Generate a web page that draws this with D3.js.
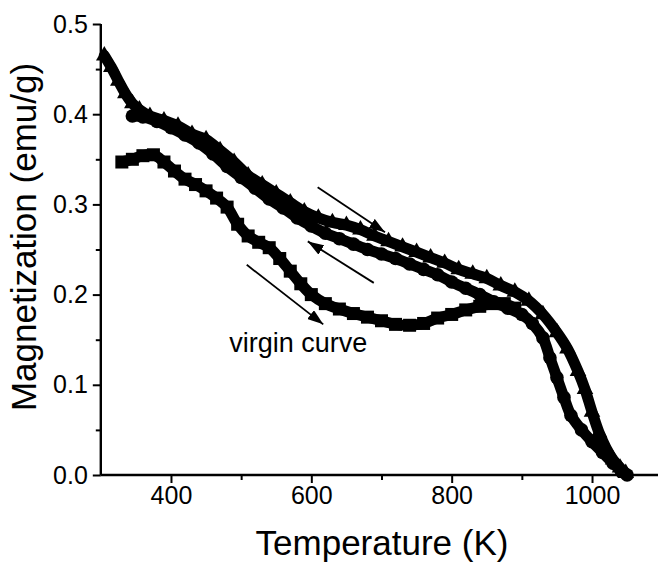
<!DOCTYPE html>
<html>
<head>
<meta charset="utf-8">
<script src="https://cdn.jsdelivr.net/npm/d3@7"></script>
<style>
  body { margin: 0; background: #fff; }
  svg { display: block; font-family: 'Liberation Sans', Arial, sans-serif; }
</style>
</head>
<body>
<svg id="chart"></svg>
<script>
// heating run (triangles)
const heatT = [305, 315, 325, 335, 345, 355, 370, 390, 410, 430, 450, 470, 490, 510, 530, 550, 570, 590, 610, 630, 650, 670, 690, 710, 730, 750, 770, 790, 810, 830, 850, 870, 890, 910, 930, 950, 965, 980, 990, 1000, 1010, 1020, 1030, 1040, 1048];
const heatM = [0.465, 0.452, 0.437, 0.423, 0.412, 0.405, 0.398, 0.393, 0.387, 0.378, 0.372, 0.360, 0.347, 0.332, 0.322, 0.312, 0.302, 0.292, 0.285, 0.280, 0.277, 0.272, 0.265, 0.259, 0.253, 0.247, 0.241, 0.235, 0.228, 0.223, 0.218, 0.210, 0.203, 0.193, 0.178, 0.158, 0.140, 0.115, 0.095, 0.070, 0.047, 0.030, 0.017, 0.008, 0.002];

// cooling run (circles)
const coolT = [345, 360, 380, 400, 420, 440, 460, 480, 500, 520, 540, 560, 580, 600, 620, 640, 660, 680, 700, 720, 740, 760, 780, 800, 820, 840, 860, 880, 900, 915, 930, 940, 950, 960, 970, 985, 1000, 1015, 1030, 1042, 1050];
const coolM = [0.398, 0.397, 0.392, 0.385, 0.377, 0.368, 0.356, 0.342, 0.330, 0.318, 0.306, 0.296, 0.285, 0.276, 0.268, 0.262, 0.256, 0.250, 0.245, 0.240, 0.234, 0.228, 0.222, 0.214, 0.207, 0.200, 0.192, 0.185, 0.178, 0.168, 0.152, 0.130, 0.108, 0.086, 0.066, 0.050, 0.037, 0.025, 0.013, 0.004, 0.000];

// virgin curve (squares)
const virgT = [330, 345, 360, 375, 390, 405, 420, 435, 450, 465, 480, 495, 510, 525, 540, 555, 570, 585, 600, 620, 640, 660, 680, 700, 720, 740, 760, 780, 800, 820, 840, 860, 875, 890];
const virgM = [0.347, 0.350, 0.354, 0.355, 0.347, 0.337, 0.328, 0.322, 0.315, 0.307, 0.297, 0.278, 0.265, 0.258, 0.252, 0.240, 0.226, 0.212, 0.200, 0.190, 0.184, 0.179, 0.175, 0.171, 0.167, 0.166, 0.168, 0.174, 0.178, 0.183, 0.187, 0.190, 0.190, 0.185];

const xMajor = [400, 600, 800, 1000];
const xMinor = [500, 700, 900];
const yMajor = [0.0, 0.1, 0.2, 0.3, 0.4, 0.5];
const yMinor = [0.05, 0.15, 0.25, 0.35, 0.45];

// arrows: [T0, M0, T1, M1], tail -> tip
const arrows = [
    [609, 0.319, 705, 0.269],
    [689, 0.213, 595, 0.259],
    [508, 0.233, 617, 0.167]
];

const width = 658, height = 565;
const svg = d3.select('#chart').attr('width', width).attr('height', height);
svg.append('rect').attr('width', width).attr('height', height).attr('fill', '#fff');

const x = d3.scaleLinear().domain([300, 1100]).range([100.8, 662.2]);
const y = d3.scaleLinear().domain([0, 0.5]).range([475, 24]);

const zip = (a, b) => a.map((v, i) => [v, b[i]]);
const heat = zip(heatT, heatM);
const cool = zip(coolT, coolM);
const virg = zip(virgT, virgM);

const line = d3.line()
    .x(d => x(d[0]))
    .y(d => y(d[1]))
    .curve(d3.curveCatmullRom);

const plot = svg.append('g');

// thick bands under the markers
[virg, cool, heat].forEach(data => {
    plot.append('path')
        .datum(data)
        .attr('d', line)
        .attr('fill', 'none')
        .attr('stroke', '#000')
        .attr('stroke-width', 11)
        .attr('stroke-linejoin', 'round')
        .attr('stroke-linecap', 'round');
});

plot.selectAll('.sq')
    .data(virg)
    .enter()
    .append('rect')
    .attr('class', 'sq')
    .attr('x', d => x(d[0]) - 6.5)
    .attr('y', d => y(d[1]) - 6.5)
    .attr('width', 13)
    .attr('height', 13)
    .attr('fill', '#000');

plot.selectAll('.ci')
    .data(cool)
    .enter()
    .append('circle')
    .attr('class', 'ci')
    .attr('cx', d => x(d[0]))
    .attr('cy', d => y(d[1]))
    .attr('r', 6.8)
    .attr('fill', '#000');

const tri = d3.symbol().type(d3.symbolTriangle).size(120);
plot.selectAll('.tr')
    .data(heat)
    .enter()
    .append('path')
    .attr('class', 'tr')
    .attr('d', tri)
    .attr('transform', d => `translate(${x(d[0])},${y(d[1])})`)
    .attr('fill', '#000');

// arrows
const defs = svg.append('defs');
defs.append('marker')
    .attr('id', 'head')
    .attr('viewBox', '0 0 16 11')
    .attr('refX', 16)
    .attr('refY', 5.5)
    .attr('markerUnits', 'userSpaceOnUse')
    .attr('markerWidth', 16)
    .attr('markerHeight', 11)
    .attr('orient', 'auto')
    .append('path')
    .attr('d', 'M0,0 L16,5.5 L0,11 Z')
    .attr('fill', '#000');

svg.selectAll('.arrow')
    .data(arrows)
    .enter()
    .append('line')
    .attr('class', 'arrow')
    .attr('x1', d => x(d[0]))
    .attr('y1', d => y(d[1]))
    .attr('x2', d => x(d[2]))
    .attr('y2', d => y(d[3]))
    .attr('stroke', '#000')
    .attr('stroke-width', 1.8)
    .attr('marker-end', 'url(#head)');

svg.append('text')
    .attr('x', x(483))
    .attr('y', y(0.136))
    .attr('font-size', '27px')
    .attr('fill', '#000')
    .text('virgin curve');

// axes
const xAxis = svg.append('g')
    .attr('transform', 'translate(0,475)')
    .call(d3.axisBottom(x).tickValues(xMajor).tickSize(8).tickPadding(3).tickFormat(d3.format('d')));
svg.append('g')
    .attr('transform', 'translate(0,475)')
    .call(d3.axisBottom(x).tickValues(xMinor).tickSize(5).tickFormat(''))
    .call(g => g.select('.domain').remove());

const yAxis = svg.append('g')
    .attr('transform', 'translate(100.8,0)')
    .call(d3.axisLeft(y).tickValues(yMajor).tickSize(8).tickPadding(5).tickFormat(d3.format('.1f')));
svg.append('g')
    .attr('transform', 'translate(100.8,0)')
    .call(d3.axisLeft(y).tickValues(yMinor).tickSize(5).tickFormat(''))
    .call(g => g.select('.domain').remove());

svg.selectAll('.domain').attr('stroke-width', 2.4).attr('stroke', '#000');
svg.selectAll('.tick line').attr('stroke-width', 2).attr('stroke', '#000');
svg.selectAll('.tick text')
    .attr('font-size', '25px')
    .attr('font-family', "'Liberation Sans', Arial, sans-serif")
    .attr('fill', '#000');
yAxis.selectAll('.domain').attr('d', `M0,${y(0)}V${y(0.5)}`);
xAxis.selectAll('.domain').attr('d', `M${x(300)},0H${width}`);

svg.append('text')
    .attr('x', 382)
    .attr('y', 555)
    .attr('text-anchor', 'middle')
    .attr('font-size', '35px')
    .attr('fill', '#000')
    .text('Temperature (K)');

svg.append('text')
    .attr('transform', 'translate(36,237) rotate(-90)')
    .attr('text-anchor', 'middle')
    .attr('font-size', '35px')
    .attr('fill', '#000')
    .text('Magnetization (emu/g)');
</script>
</body>
</html>
